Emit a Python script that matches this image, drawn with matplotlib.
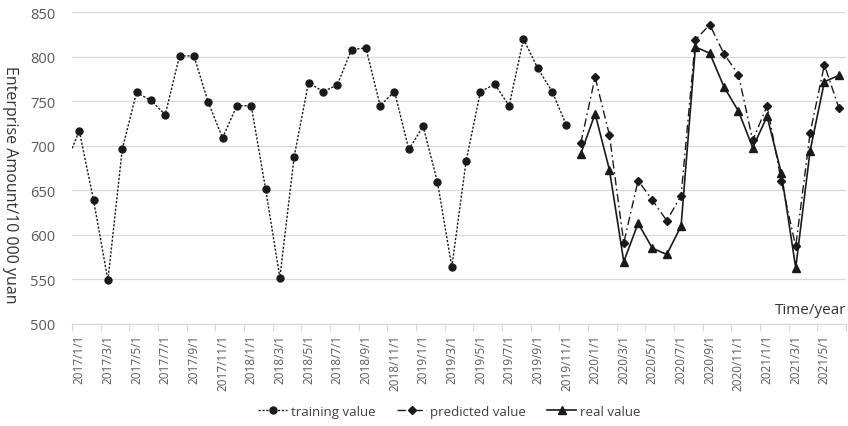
import matplotlib
matplotlib.use("Agg")
import matplotlib.pyplot as plt
import numpy as np

# ---- data ----
# training series: 2016/12 .. 2019/11 (first value only enters from the left edge)
training_values = [677, 717, 639, 549, 696, 760, 751, 735, 801, 801, 749,
                   709, 745, 745, 652, 552, 688, 771, 761, 768, 808,
                   810, 745, 761, 696, 722, 659, 564, 683, 761, 769,
                   745, 820, 787, 761, 723]
# predicted / real: 2019/12 .. 2021/6
predicted_values = [703, 777, 712, 591, 661, 639, 616, 644, 819, 836,
                    803, 780, 706, 745, 660, 587, 714, 791, 743]
real_values = [691, 736, 673, 570, 613, 585, 578, 610, 811, 804,
               766, 739, 698, 733, 669, 563, 694, 772, 779]
tick_labels = ['2017/1/1', '2017/3/1', '2017/5/1', '2017/7/1', '2017/9/1', '2017/11/1',
               '2018/1/1', '2018/3/1', '2018/5/1', '2018/7/1', '2018/9/1', '2018/11/1',
               '2019/1/1', '2019/3/1', '2019/5/1', '2019/7/1', '2019/9/1', '2019/11/1',
               '2020/1/1', '2020/3/1', '2020/5/1', '2020/7/1', '2020/9/1', '2020/11/1',
               '2021/1/1', '2021/3/1', '2021/5/1']
y_ticks = [500, 550, 600, 650, 700, 750, 800, 850]

# month index: 0 = 2017/1
x_train = np.arange(len(training_values)) - 1
x_pred = np.arange(len(predicted_values)) + (len(training_values) - 1)

plt.rcParams['font.family'] = ['Open Sans', 'DejaVu Sans']
fig = plt.figure(figsize=(8.48, 4.27), dpi=100)
ax = fig.add_axes([0.085, 0.239, 0.9125, 0.730])

lc = '#1a1a1a'
ax.plot(x_train, training_values, color=lc, lw=1.0, linestyle=(0, (1.6, 1.2)),
        marker='o', markersize=5, label='training value', zorder=3)
ax.plot(x_pred, predicted_values, color=lc, lw=1.0, linestyle=(0, (6, 2.5, 1.2, 2.5)),
        marker='D', markersize=4.2, label='predicted value', zorder=3)
ax.plot(x_pred, real_values, color=lc, lw=1.2, linestyle='-',
        marker='^', markersize=5.5, label='real value', zorder=3)

ax.set_xlim(-0.5, 53.5)
ax.set_ylim(500, 850)
ax.set_yticks(y_ticks)
ax.yaxis.grid(True, color='#d9d9d9', lw=0.9)
ax.set_axisbelow(True)
for s in ['top', 'right', 'left']:
    ax.spines[s].set_visible(False)
ax.spines['bottom'].set_color('#d9d9d9')
ax.spines['bottom'].set_linewidth(0.9)

ax.set_xticks(np.arange(0, 2 * len(tick_labels), 2))
ax.set_xticklabels(tick_labels, rotation=90, fontsize=8.5, color='#595959')
ax.set_xticks(np.arange(-0.5, 54, 2), minor=True)
ax.tick_params(axis='x', which='major', length=0, pad=7)
ax.tick_params(axis='x', which='minor', length=5, color='#d9d9d9', width=0.9)
ax.tick_params(axis='y', length=0, labelsize=10.5, labelcolor='#595959', pad=12)

ax.set_ylabel('Enterprise Amount/10 000 yuan', rotation=-90, fontsize=11.5,
              color='#333333')
ax.yaxis.set_label_coords(-0.08, 0.45)
ax.yaxis.label.set_va('center')
ax.text(1.0, 0.022, 'Time/year', transform=ax.transAxes, ha='right', va='bottom',
        fontsize=11, color='#333333')

fig.legend(loc='lower center', bbox_to_anchor=(0.53, -0.008), ncol=3, frameon=False,
           fontsize=9.5, handlelength=2.2, handletextpad=0.3, columnspacing=1.6,
           labelcolor='#404040')

fig.savefig('out.png', dpi=100)
